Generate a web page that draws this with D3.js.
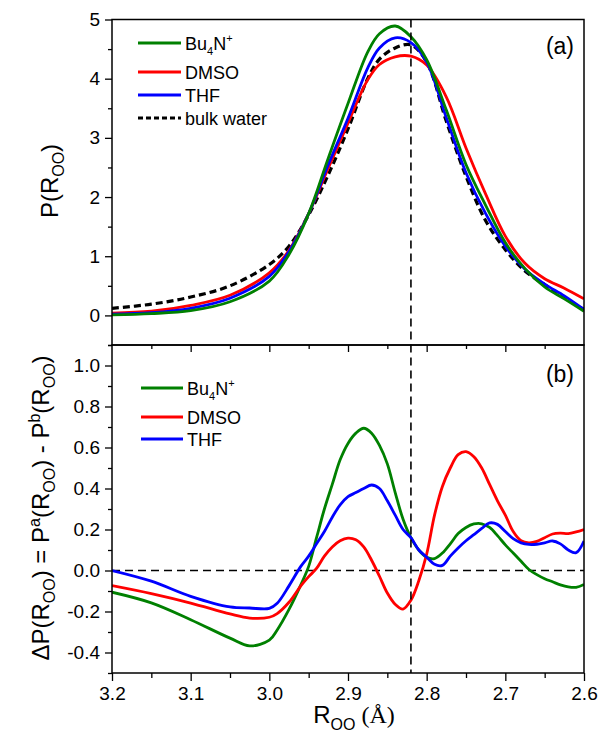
<!DOCTYPE html>
<html>
<head>
<meta charset="utf-8">
<script src="https://cdn.jsdelivr.net/npm/d3@7"></script>
<style>
  body { margin: 0; background: #fff; }
  svg { display: block; font-family: "Liberation Sans", Arial, sans-serif; }
</style>
</head>
<body>
<div id="chart"></div>
<script>
// Oxygen-oxygen distance distributions, (a) absolute and (b) difference to bulk

// panel (a) values
const rA = [3.2, 3.15, 3.1, 3.05, 3.0, 2.975, 2.95, 2.925, 2.9, 2.875, 2.86, 2.84, 2.82, 2.8, 2.775, 2.75, 2.725, 2.7, 2.675, 2.65, 2.625, 2.6];
const bu4nA = [0.01, 0.03, 0.08, 0.23, 0.58, 1.03, 1.72, 2.66, 3.58, 4.45, 4.76, 4.89, 4.71, 4.32, 3.47, 2.55, 1.86, 1.23, 0.79, 0.48, 0.28, 0.07];
const dmsoA = [0.04, 0.07, 0.17, 0.34, 0.72, 1.10, 1.72, 2.49, 3.25, 3.98, 4.24, 4.37, 4.38, 4.23, 3.69, 2.83, 2.05, 1.34, 0.88, 0.62, 0.46, 0.28];
const thfA = [0.02, 0.045, 0.12, 0.29, 0.66, 1.08, 1.72, 2.55, 3.33, 4.18, 4.52, 4.69, 4.61, 4.28, 3.34, 2.41, 1.72, 1.17, 0.78, 0.53, 0.33, 0.10];
const bulkA = [0.12, 0.19, 0.31, 0.50, 0.86, 1.17, 1.70, 2.38, 3.15, 4.00, 4.33, 4.52, 4.57, 4.28, 3.28, 2.35, 1.60, 1.11, 0.75, 0.52, 0.30, 0.10];

// panel (b) values
const rB = [3.2, 3.15, 3.1, 3.05, 3.025, 3.0, 2.99, 2.975, 2.96, 2.95, 2.94, 2.93, 2.92, 2.91, 2.9, 2.89, 2.88, 2.87, 2.86, 2.85, 2.84, 2.83, 2.82, 2.81, 2.8, 2.79, 2.78, 2.77, 2.76, 2.75, 2.74, 2.73, 2.72, 2.71, 2.7, 2.69, 2.68, 2.67, 2.66, 2.65, 2.64, 2.63, 2.62, 2.61, 2.6];
const bu4nB = [-0.106, -0.158, -0.24, -0.33, -0.368, -0.34, -0.29, -0.19, -0.07, 0.02, 0.16, 0.30, 0.42, 0.54, 0.62, 0.67, 0.694, 0.67, 0.61, 0.52, 0.38, 0.25, 0.16, 0.10, 0.065, 0.058, 0.085, 0.13, 0.18, 0.21, 0.227, 0.228, 0.21, 0.17, 0.125, 0.085, 0.045, 0.005, -0.02, -0.04, -0.055, -0.07, -0.08, -0.082, -0.068];
const dmsoB = [-0.074, -0.113, -0.159, -0.212, -0.232, -0.228, -0.21, -0.155, -0.075, -0.03, 0.01, 0.07, 0.115, 0.145, 0.158, 0.15, 0.115, 0.05, -0.028, -0.11, -0.165, -0.188, -0.145, -0.05, 0.08, 0.27, 0.41, 0.50, 0.565, 0.58, 0.555, 0.50, 0.42, 0.34, 0.27, 0.19, 0.145, 0.135, 0.142, 0.16, 0.178, 0.182, 0.18, 0.188, 0.20];
const thfB = [0.0, -0.052, -0.126, -0.178, -0.183, -0.185, -0.16, -0.075, 0.02, 0.07, 0.13, 0.19, 0.26, 0.32, 0.36, 0.38, 0.40, 0.417, 0.40, 0.34, 0.27, 0.20, 0.16, 0.10, 0.065, 0.03, 0.025, 0.07, 0.11, 0.145, 0.175, 0.205, 0.232, 0.225, 0.19, 0.155, 0.135, 0.127, 0.128, 0.135, 0.144, 0.13, 0.10, 0.087, 0.144];

// ticks
const xTicks = [3.2, 3.1, 3.0, 2.9, 2.8, 2.7, 2.6];
const xMinor = [3.15, 3.05, 2.95, 2.85, 2.75, 2.65];
const yTicksA = [0, 1, 2, 3, 4, 5];
const yMinorA = [-0.5, 0.5, 1.5, 2.5, 3.5, 4.5];
const yTicksB = [-0.4, -0.2, 0.0, 0.2, 0.4, 0.6, 0.8, 1.0];
const yMinorB = [-0.5, -0.3, -0.1, 0.1, 0.3, 0.5, 0.7, 0.9, 1.1];
const refR = 2.82;

const seriesA = [
  { name: 'Bu4N+', vals: bu4nA, color: '#008000' },
  { name: 'DMSO', vals: dmsoA, color: '#ff0000' },
  { name: 'THF', vals: thfA, color: '#0000ff' },
  { name: 'bulk water', vals: bulkA, color: '#000', dash: '7,4' },
];
const seriesB = [
  { name: 'Bu4N+', vals: bu4nB, color: '#008000' },
  { name: 'DMSO', vals: dmsoB, color: '#ff0000' },
  { name: 'THF', vals: thfB, color: '#0000ff' },
];

const width = 605, height = 740;
const left = 112, right = 584;
const topA = 19.5, botA = 345, topB = 345, botB = 673;

const svg = d3.select('#chart').append('svg')
  .attr('width', width).attr('height', height)
  .attr('viewBox', `0 0 ${width} ${height}`);

const x = d3.scaleLinear().domain([3.2, 2.6]).range([left, right]);
const yA = d3.scaleLinear().domain([-0.5, 5]).range([botA, topA]);
const yB = d3.scaleLinear().domain([-0.5, 1.1]).range([botB, topB]);

const defs = svg.append('defs');
defs.append('clipPath').attr('id', 'clipA').append('rect')
  .attr('x', left).attr('y', topA).attr('width', right - left).attr('height', botA - topA);
defs.append('clipPath').attr('id', 'clipB').append('rect')
  .attr('x', left).attr('y', topB).attr('width', right - left).attr('height', botB - topB);

function styleAxis(g) {
  g.select('.domain').remove();
  g.selectAll('line').attr('stroke', '#000').attr('stroke-width', 1.3);
  g.selectAll('text').attr('font-size', 19).attr('fill', '#000')
    .attr('font-family', '"Liberation Sans", Arial, sans-serif');
}
const fmt = (d) => d3.format('.1f')(d).replace('\u2212', '-');

// left axes
svg.append('g').attr('transform', `translate(${left},0)`)
  .call(d3.axisLeft(yA).tickValues(yTicksA).tickSize(7).tickPadding(5).tickFormat(d3.format('d')))
  .call(styleAxis);
svg.append('g').attr('transform', `translate(${left},0)`)
  .call(d3.axisLeft(yA).tickValues(yMinorA).tickSize(4).tickFormat(''))
  .call(styleAxis);
svg.append('g').attr('transform', `translate(${left},0)`)
  .call(d3.axisLeft(yB).tickValues(yTicksB).tickSize(7).tickPadding(5).tickFormat(fmt))
  .call(styleAxis);
svg.append('g').attr('transform', `translate(${left},0)`)
  .call(d3.axisLeft(yB).tickValues(yMinorB).tickSize(4).tickFormat(''))
  .call(styleAxis);

// bottom axis
svg.append('g').attr('transform', `translate(0,${botB})`)
  .call(d3.axisBottom(x).tickValues(xTicks).tickSize(8).tickPadding(6).tickFormat(d3.format('.1f')))
  .call(styleAxis);
svg.append('g').attr('transform', `translate(0,${botB})`)
  .call(d3.axisBottom(x).tickValues(xMinor).tickSize(5).tickFormat(''))
  .call(styleAxis);
// inner ticks along the top of panel (b)
svg.append('g').attr('transform', `translate(0,${topB})`)
  .call(d3.axisBottom(x).tickValues(xTicks.slice(1, -1)).tickSize(7).tickFormat(''))
  .call(styleAxis);
svg.append('g').attr('transform', `translate(0,${topB})`)
  .call(d3.axisBottom(x).tickValues(xMinor).tickSize(4).tickFormat(''))
  .call(styleAxis);

// zero line in panel (b)
svg.append('line')
  .attr('x1', left).attr('x2', right).attr('y1', yB(0)).attr('y2', yB(0))
  .attr('stroke', '#000').attr('stroke-width', 1.6).attr('stroke-dasharray', '8,5');

// curves
function drawSeries(series, rs, y, clip) {
  const line = d3.line().curve(d3.curveCatmullRom.alpha(0.5));
  const g = svg.append('g').attr('clip-path', `url(#${clip})`);
  // bulk water goes underneath in (a)
  const order = series.length === 4 ? [3, 1, 2, 0] : [0, 1, 2];
  order.forEach((i) => {
    const s = series[i];
    g.append('path')
      .attr('d', line(rs.map((r, j) => [x(r), y(s.vals[j])])))
      .attr('fill', 'none')
      .attr('stroke', s.color)
      .attr('stroke-width', s.dash ? 3.2 : 2.8)
      .attr('stroke-linejoin', 'round')
      .attr('stroke-dasharray', s.dash || null);
  });
}
drawSeries(seriesA, rA, yA, 'clipA');
drawSeries(seriesB, rB, yB, 'clipB');

// reference line at 2.82 Å
svg.append('line')
  .attr('x1', x(refR)).attr('x2', x(refR)).attr('y1', topA).attr('y2', botB)
  .attr('stroke', '#000').attr('stroke-width', 1.6).attr('stroke-dasharray', '8,5');

// frames
[[topA, botA], [topB, botB]].forEach(([t, b]) => {
  svg.append('rect').attr('x', left).attr('y', t).attr('width', right - left).attr('height', b - t)
    .attr('fill', 'none').attr('stroke', '#000').attr('stroke-width', 1.5);
});

// panel labels
svg.append('text').attr('x', 574).attr('y', 54).attr('text-anchor', 'end')
  .attr('font-size', 23).text('(a)');
svg.append('text').attr('x', 574).attr('y', 382).attr('text-anchor', 'end')
  .attr('font-size', 23).text('(b)');

// legend entry label with optional sub/superscript
function legendLabel(t, name) {
  if (name === 'Bu4N+') {
    t.append('tspan').text('Bu');
    t.append('tspan').attr('font-size', 11).attr('dy', 5).text('4');
    t.append('tspan').attr('dy', -5).text('N');
    t.append('tspan').attr('font-size', 11).attr('dy', -8).text('+');
  } else {
    t.text(name);
  }
}
function drawLegend(series, x0, x1, ys) {
  series.forEach((s, i) => {
    svg.append('line').attr('x1', x0).attr('x2', x1).attr('y1', ys[i]).attr('y2', ys[i])
      .attr('stroke', s.color).attr('stroke-width', 3).attr('stroke-dasharray', s.dash ? '5,3' : null);
    const t = svg.append('text').attr('x', x1 + 4).attr('y', ys[i] + 6.5).attr('font-size', 18)
      .attr('textLength', null);
    legendLabel(t, s.name);
  });
}
drawLegend(seriesA, 138, 181, [43, 72, 95, 118]);
drawLegend(seriesB, 141, 183, [388, 417, 439]);

// axis titles
const tA = svg.append('text').attr('transform', `translate(58,181) rotate(-90)`)
  .attr('text-anchor', 'middle').attr('font-size', 24);
tA.append('tspan').text('P(R');
tA.append('tspan').attr('font-size', 16).attr('dy', 6).text('OO');
tA.append('tspan').attr('dy', -6).text(')');

const tB = svg.append('text').attr('transform', `translate(49,508) rotate(-90)`)
  .attr('text-anchor', 'middle').attr('font-size', 24);
const sub = (txt) => { tB.append('tspan').attr('font-size', 16).attr('dy', 6).text(txt); };
const sup = (txt) => { tB.append('tspan').attr('font-size', 16).attr('dy', -9).text(txt); };
tB.append('tspan').text('\u0394P(R'); sub('OO');
tB.append('tspan').attr('dy', -6).text(') = P'); sup('a');
tB.append('tspan').attr('dy', 9).text('(R'); sub('OO');
tB.append('tspan').attr('dy', -6).text(') - P'); sup('b');
tB.append('tspan').attr('dy', 9).text('(R'); sub('OO');
tB.append('tspan').attr('dy', -6).text(')');

const tX = svg.append('text').attr('x', 354).attr('y', 723)
  .attr('text-anchor', 'middle').attr('font-size', 24);
tX.append('tspan').text('R');
tX.append('tspan').attr('font-size', 16).attr('dy', 7).text('OO');
tX.append('tspan').attr('dy', -7).attr('font-family', '"Liberation Serif", serif').text(' (\u00C5)');
</script>
</body>
</html>
